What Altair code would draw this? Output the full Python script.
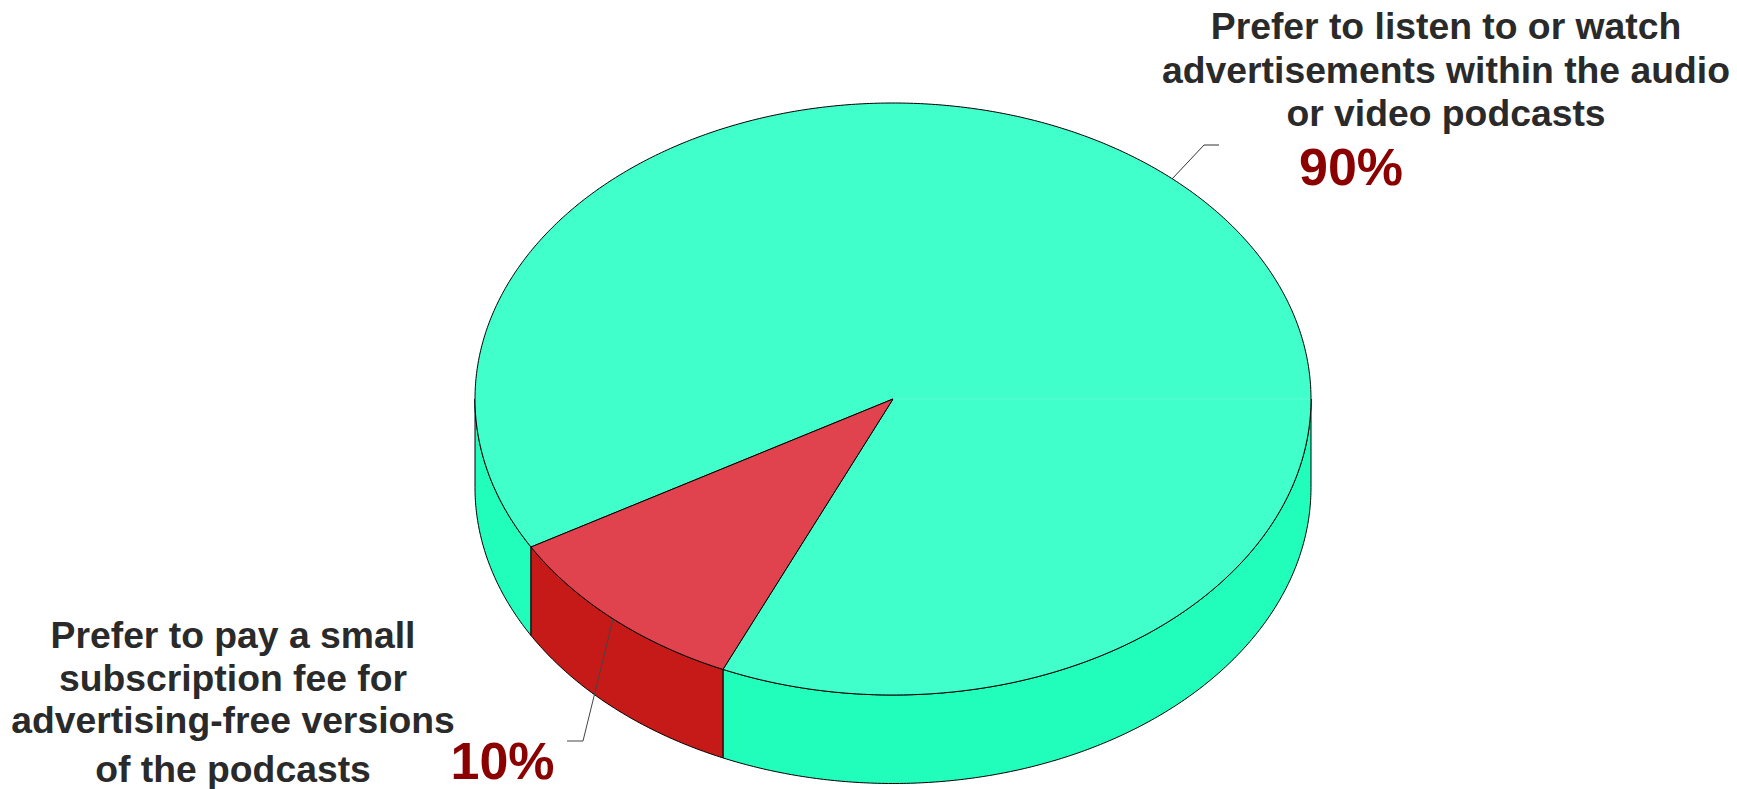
import numpy as np
import pandas as pd
import altair as alt

# --- values ---
categories = ["Prefer to listen", "Prefer to pay"]
shares = [90, 10]
share_labels = ["90%", "10%"]
label_lines_listen = ["Prefer to listen to or watch", "advertisements within the audio", "or video podcasts"]
label_lines_pay = ["Prefer to pay a small", "subscription fee for", "advertising-free versions", "of the podcasts"]
top_colors = ["#41FFCA", "#E1434E"]
side_colors = ["#21FEBC", "#C61A18"]

# pie geometry, in reference pixel units
CX, CY, RX, RY, DEPTH = 893, 399, 418, 296, 88.5
START_DEG = 150  # the 90% slice starts here and runs clockwise on screen


def rim(deg, drop=0.0):
    a = np.radians(deg)
    return CX + RX * np.cos(a), CY + RY * np.sin(a) + drop


def poly(xs, ys):
    xs, ys = list(xs) + [xs[0]], list(ys) + [ys[0]]
    return pd.DataFrame({"px": xs, "py": ys, "i": range(len(xs))})


def top_slice(a0, a1):
    d = np.linspace(a0, a1, int((a1 - a0) * 2) + 2)
    x, y = rim(d)
    return poly([CX] + list(x), [CY] + list(y))


def wall(a0, a1):
    d = np.linspace(a0, a1, int((a1 - a0) * 2) + 2)
    x, y = rim(d)
    xb, yb = rim(d[::-1], DEPTH)
    return poly(list(x) + list(xb), list(y) + list(yb))


X = alt.X("px:Q", scale=alt.Scale(domain=[8, 1729], nice=False, zero=False), axis=None)
Y = alt.Y("py:Q", scale=alt.Scale(domain=[789, 8], nice=False, zero=False), axis=None)


def shape(df, fill, stroke="#000000", sw=1.0):
    return alt.Chart(df).mark_line(fill=fill, stroke=stroke, strokeWidth=sw, clip=False).encode(
        x=X, y=Y, order=alt.Order("i:Q")
    )


def leader(xs, ys, color="#333333"):
    df = pd.DataFrame({"px": xs, "py": ys, "i": range(len(xs))})
    return alt.Chart(df).mark_line(stroke=color, strokeWidth=1).encode(x=X, y=Y, order=alt.Order("i:Q"))


sweep = [s * 3.6 for s in shares]
a_big0, a_big1 = START_DEG, START_DEG + sweep[0]
a_small0, a_small1 = a_big1 - 360, a_big1 - 360 + sweep[1]

layers = [
    shape(wall(0, a_small0), side_colors[0]),
    shape(wall(a_small1, 180), side_colors[0]),
    shape(wall(a_small0, a_small1), side_colors[1]),
    shape(top_slice(a_big0, a_big1), top_colors[0]),
    shape(top_slice(a_small0, a_small1), top_colors[1]),
    leader([CX, CX + RX - 1], [CY, CY], "#5CFFD3"),
    leader([1172, 1204, 1219], [179, 145, 145]),
    leader([613, 583, 567], [619, 741, 741], "#444444"),
]

rows = []
for line, x, y in zip(label_lines_listen, [1446] * 3, [39, 82.5, 126]):
    rows.append({"t": line, "px": x, "py": y})
for line, x, y in zip(label_lines_pay, [233] * 4, [648, 691, 733, 782]):
    rows.append({"t": line, "px": x, "py": y})
text_df = pd.DataFrame(rows)
pct_df = pd.DataFrame({"t": share_labels, "px": [1351, 502.5], "py": [184.5, 779]})

layers.append(
    alt.Chart(text_df).mark_text(font="Liberation Sans", fontWeight="bold", fontSize=37.3, color="#2A2A2A",
                                 align="center", baseline="alphabetic").encode(x=X, y=Y, text="t:N")
)
layers.append(
    alt.Chart(pct_df).mark_text(font="Liberation Sans", fontWeight="bold", fontSize=52, color="#8B0000",
                                align="center", baseline="alphabetic").encode(x=X, y=Y, text="t:N")
)

chart = (
    alt.layer(*layers)
    .properties(width=1721, height=781, padding=0, autosize=alt.AutoSizeParams(type="none"), background="#FFFFFF")
    .configure_view(stroke=None)
)
chart.save("out.html", embed_options={"renderer": "svg", "actions": False})
